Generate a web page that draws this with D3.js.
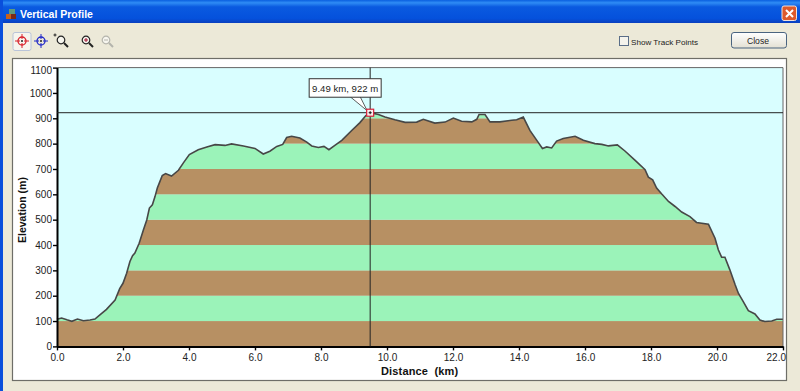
<!DOCTYPE html>
<html>
<head>
<meta charset="utf-8">
<script src="https://cdn.jsdelivr.net/npm/d3@7"></script>
<style>
  html, body { margin: 0; padding: 0; background: #ECE9D8; overflow: hidden; }
  svg { display: block; }
  text { font-family: "Liberation Sans", Arial, sans-serif; }
</style>
</head>
<body>
<div id="chart"></div>
<script>
const distanceKm = [0, 0.14, 0.3, 0.45, 0.62, 0.8, 1.0, 1.15, 1.3, 1.5, 1.76, 1.9, 2.0, 2.11, 2.21, 2.29, 2.36, 2.49, 2.62, 2.72, 2.8, 2.89, 2.97, 3.04, 3.12, 3.19, 3.29, 3.47, 3.68, 3.83, 4.01, 4.28, 4.54, 4.79, 5.09, 5.29, 5.65, 6.0, 6.25, 6.45, 6.66, 6.84, 6.96, 7.11, 7.36, 7.57, 7.72, 7.92, 8.09, 8.24, 8.42, 8.63, 8.93, 9.18, 9.36, 9.49, 9.74, 9.94, 10.24, 10.55, 10.9, 11.1, 11.45, 11.76, 12.01, 12.26, 12.57, 12.72, 12.79, 12.97, 13.12, 13.42, 13.78, 13.93, 14.13, 14.33, 14.54, 14.71, 14.84, 14.99, 15.14, 15.34, 15.7, 15.95, 16.3, 16.51, 16.71, 16.98, 17.21, 17.52, 17.82, 17.92, 18.05, 18.17, 18.32, 18.53, 18.73, 18.93, 19.18, 19.38, 19.74, 19.94, 20.04, 20.14, 20.24, 20.39, 20.55, 20.65, 20.8, 20.95, 21.15, 21.3, 21.45, 21.66, 21.81, 22];
const elevationM = [107, 112, 105, 99, 108, 101, 104, 108, 124, 146, 183, 228, 249, 289, 335, 358, 368, 407, 460, 499, 546, 559, 591, 625, 651, 674, 682, 672, 695, 724, 757, 776, 787, 796, 793, 799, 791, 781, 759, 770, 789, 797, 824, 829, 822, 806, 791, 785, 789, 776, 793, 813, 852, 883, 911, 922, 915, 905, 894, 884, 885, 896, 881, 885, 901, 888, 886, 896, 915, 915, 886, 886, 892, 894, 905, 852, 813, 781, 787, 783, 810, 820, 829, 813, 800, 797, 791, 795, 771, 734, 697, 668, 657, 625, 602, 572, 552, 530, 512, 489, 482, 427, 381, 352, 352, 302, 243, 209, 176, 141, 128, 104, 98, 100, 107, 107];
const xTicks = [0, 2, 4, 6, 8, 10, 12, 14, 16, 18, 20, 22];
const yTicks = [0, 100, 200, 300, 400, 500, 600, 700, 800, 900, 1000, 1100];
const cursorKm = 9.49;
const cursorM = 922;
const cursorLabel = "9.49 km, 922 m";

const width = 800;
const height = 391;

const svg = d3.select("#chart").append("svg")
    .attr("width", width)
    .attr("height", height);

const defs = svg.append("defs");
const titleGradient = defs.append("linearGradient")
    .attr("id", "title-gradient")
    .attr("x1", "0%").attr("x2", "0%")
    .attr("y1", "0%").attr("y2", "100%");
[["0%", "#0A5FE0"], ["12%", "#2F8CF5"], ["30%", "#0A5AE0"], ["80%", "#0551DC"], ["100%", "#0A3FBE"]].forEach((s) => {
    titleGradient.append("stop").attr("offset", s[0]).attr("stop-color", s[1]);
});
const buttonGradient = defs.append("linearGradient")
    .attr("id", "button-gradient")
    .attr("x1", "0%").attr("x2", "0%")
    .attr("y1", "0%").attr("y2", "100%");
buttonGradient.append("stop").attr("offset", "0%").attr("stop-color", "#FFFFFF");
buttonGradient.append("stop").attr("offset", "100%").attr("stop-color", "#E3E0D3");

// Window frame
svg.append("rect").attr("width", width).attr("height", height).attr("fill", "#ECE9D8");
svg.append("rect").attr("width", width).attr("height", 23).attr("fill", "url(#title-gradient)");
svg.append("rect").attr("x", 0).attr("y", 0).attr("width", 3).attr("height", height).attr("fill", "#0A4FDC");
svg.append("text").attr("x", 20).attr("y", 17.5)
    .attr("fill", "#fff").attr("font-size", 10.5).attr("font-weight", "bold")
    .text("Vertical Profile");

// App icon
const appIcon = svg.append("g").attr("transform", "translate(6,8)");
appIcon.append("rect").attr("x", 0).attr("y", 6).attr("width", 5).attr("height", 5).attr("fill", "#C8601C");
appIcon.append("rect").attr("x", 5).attr("y", 6).attr("width", 5).attr("height", 5).attr("fill", "#7A2A18");
appIcon.append("rect").attr("x", 3).attr("y", 1).attr("width", 6).attr("height", 5).attr("fill", "#5E9A7E");

// Close box
const closeBox = svg.append("g").attr("transform", "translate(789,13)");
closeBox.append("rect").attr("x", -7).attr("y", -7).attr("width", 14.5).attr("height", 14.5).attr("rx", 2)
    .attr("fill", "#DD5A2C").attr("stroke", "#F2E2DA");
closeBox.append("path").attr("d", "M-3,-3L4,4M4,-3L-3,4").attr("stroke", "#fff").attr("stroke-width", 2);

// Toolbar
svg.append("rect").attr("x", 13).attr("y", 32.5).attr("width", 18).attr("height", 18).attr("rx", 2)
    .attr("fill", "#F6F5EE").attr("stroke", "#B9C4D8");

function crosshair(cx, color) {
    const g = svg.append("g").attr("transform", `translate(${cx},41)`);
    g.append("circle").attr("r", 4).attr("fill", "none").attr("stroke", color).attr("stroke-width", 1.3);
    g.append("path").attr("d", "M-7,0H-2M2,0H7M0,-7V-2M0,2V7").attr("stroke", color).attr("stroke-width", 1);
    g.append("circle").attr("r", 1).attr("fill", "#222");
}
crosshair(22, "#D8202A");
crosshair(41, "#2028C8");

function magnifier(cx, color, sign) {
    const g = svg.append("g").attr("transform", `translate(${cx},40)`);
    g.append("circle").attr("r", 3.8).attr("fill", "#fff").attr("fill-opacity", 0.6).attr("stroke", color).attr("stroke-width", 1.2);
    g.append("path").attr("d", "M3,3L7,7").attr("stroke", color).attr("stroke-width", 2);
    if (sign) g.append("path").attr("d", sign).attr("stroke", color === "#222" ? "#A01030" : color).attr("stroke-width", 1);
}
magnifier(61, "#222", null);
svg.append("path").attr("d", "M55,33.5v3M53.5,35h3").attr("stroke", "#222");
magnifier(86, "#222", "M-2,0H2M0,-2V2");
magnifier(106, "#B4B4AC", "M-2,0H2");

// Show Track Points, Close
svg.append("rect").attr("x", 619.5).attr("y", 36.5).attr("width", 9).attr("height", 9)
    .attr("fill", "#F4F3EC").attr("stroke", "#5A6E88");
svg.append("text").attr("x", 631).attr("y", 45).attr("fill", "#222").attr("font-size", 8.1)
    .text("Show Track Points");
svg.append("rect").attr("x", 731.5).attr("y", 32.5).attr("width", 55).attr("height", 15.5).attr("rx", 2.5)
    .attr("fill", "url(#button-gradient)").attr("stroke", "#4A6480");
svg.append("text").attr("x", 758).attr("y", 44).attr("text-anchor", "middle").attr("fill", "#222").attr("font-size", 8.6)
    .text("Close");

// Chart panel
svg.append("rect").attr("x", 12.5).attr("y", 58.5).attr("width", 774).attr("height", 322)
    .attr("fill", "#fff").attr("stroke", "#6E6E68").attr("stroke-width", 1.2);

// Chart scales
const x = d3.scaleLinear().domain([0, 22]).range([57, 783]);
const y = d3.scaleLinear().domain([0, 1100]).range([346.4, 67.6]);

const plot = svg.append("g");
plot.append("rect")
    .attr("x", x(0)).attr("y", y(1100))
    .attr("width", x(22) - x(0)).attr("height", y(0) - y(1100))
    .attr("fill", "#D9FEFF");

const profile = distanceKm.map((d, i) => [d, elevationM[i]]);

const area = d3.area()
    .x((d) => x(d[0]))
    .y0(y(0))
    .y1((d) => y(d[1]));

const line = d3.line()
    .x((d) => x(d[0]))
    .y((d) => y(d[1]));

defs.append("clipPath").attr("id", "profile-clip")
    .append("path").attr("d", area(profile));

// Alternating elevation bands, brown first from the ground up
plot.append("g")
    .attr("clip-path", "url(#profile-clip)")
    .selectAll("rect")
    .data(yTicks.slice(0, -1))
    .join("rect")
    .attr("x", x(0))
    .attr("y", (d) => y(d + 100))
    .attr("width", x(22) - x(0))
    .attr("height", (d) => y(d) - y(d + 100))
    .attr("fill", (d, i) => (i % 2 === 0 ? "#B79063" : "#9BF3B9"));

plot.append("path")
    .attr("d", line(profile))
    .attr("fill", "none")
    .attr("stroke", "#474747")
    .attr("stroke-width", 1.6);

// Top and right border of plot
plot.append("path")
    .attr("d", `M${x(0)},${y(1100)}H${x(22)}V${y(0)}`)
    .attr("fill", "none")
    .attr("stroke", "#666")
    .attr("stroke-width", 1);

// Axes
const xAxis = d3.axisBottom(x).tickValues(xTicks).tickFormat(d3.format(".1f")).tickSize(4).tickSizeOuter(0);
const yAxis = d3.axisLeft(y).tickValues(yTicks).tickFormat(d3.format("d")).tickSize(4).tickSizeOuter(0);

const xG = svg.append("g").attr("transform", `translate(0,${y(0)})`).call(xAxis);
const yG = svg.append("g").attr("transform", `translate(${x(0)},0)`).call(yAxis);
[xG, yG].forEach((g) => {
    g.select(".domain").attr("stroke", "#000").attr("stroke-width", 2);
    g.selectAll(".tick line").attr("stroke", "#000").attr("stroke-width", 1.4);
    g.selectAll(".tick text").attr("fill", "#222").attr("font-size", 10).attr("font-family", '"Liberation Sans", Arial, sans-serif');
});
xG.selectAll(".tick text").attr("y", 7.5);
yG.selectAll(".tick text").attr("x", -5);

// End labels are nudged to stay inside the panel, as in the app
xG.selectAll(".tick text").filter((d) => d === 22).attr("text-anchor", "end").attr("x", 2.5);
yG.selectAll(".tick text").filter((d) => d === 1100).attr("y", 3);

svg.append("text")
    .attr("x", 381).attr("y", 374.7)
    .attr("font-size", 11).attr("font-weight", "bold").attr("fill", "#111")
    .style("white-space", "pre")
    .style("letter-spacing", "0.15px")
    .text("Distance  (km)");

svg.append("text")
    .attr("transform", "translate(26,243) rotate(-90)")
    .attr("font-size", 10.5).attr("font-weight", "bold").attr("fill", "#111")
    .text("Elevation (m)");

// Cursor crosshair and callout
const cx = x(cursorKm);
const cy = y(cursorM);
svg.append("path")
    .attr("d", `M${cx},${y(1100)}V${y(0)}M${x(0)},${cy}H${x(22)}`)
    .attr("fill", "none").attr("stroke", "#222").attr("stroke-width", 1);
svg.append("path")
    .attr("d", `M${cx - 20},${cy - 16}L${cx - 3},${cy - 2}L${cx - 10},${cy - 16}`)
    .attr("fill", "#fff").attr("stroke", "#333").attr("stroke-width", 0.8);
svg.append("rect")
    .attr("x", cx - 61).attr("y", cy - 34)
    .attr("width", 72).attr("height", 18.5)
    .attr("fill", "#fff").attr("stroke", "#333").attr("stroke-width", 1);
svg.append("text")
    .attr("x", cx - 25).attr("y", cy - 21)
    .attr("text-anchor", "middle")
    .attr("font-size", 9.6).attr("fill", "#222")
    .text(cursorLabel);
svg.append("rect")
    .attr("x", cx - 3.5).attr("y", cy - 3.5)
    .attr("width", 7).attr("height", 7)
    .attr("fill", "#FBEFEF").attr("stroke", "#D8203A").attr("stroke-width", 1.2);
svg.append("path")
    .attr("d", `M${cx - 1.5},${cy}H${cx + 1.5}M${cx},${cy - 1.5}V${cy + 1.5}`)
    .attr("stroke", "#111").attr("stroke-width", 1);
</script>
</body>
</html>
